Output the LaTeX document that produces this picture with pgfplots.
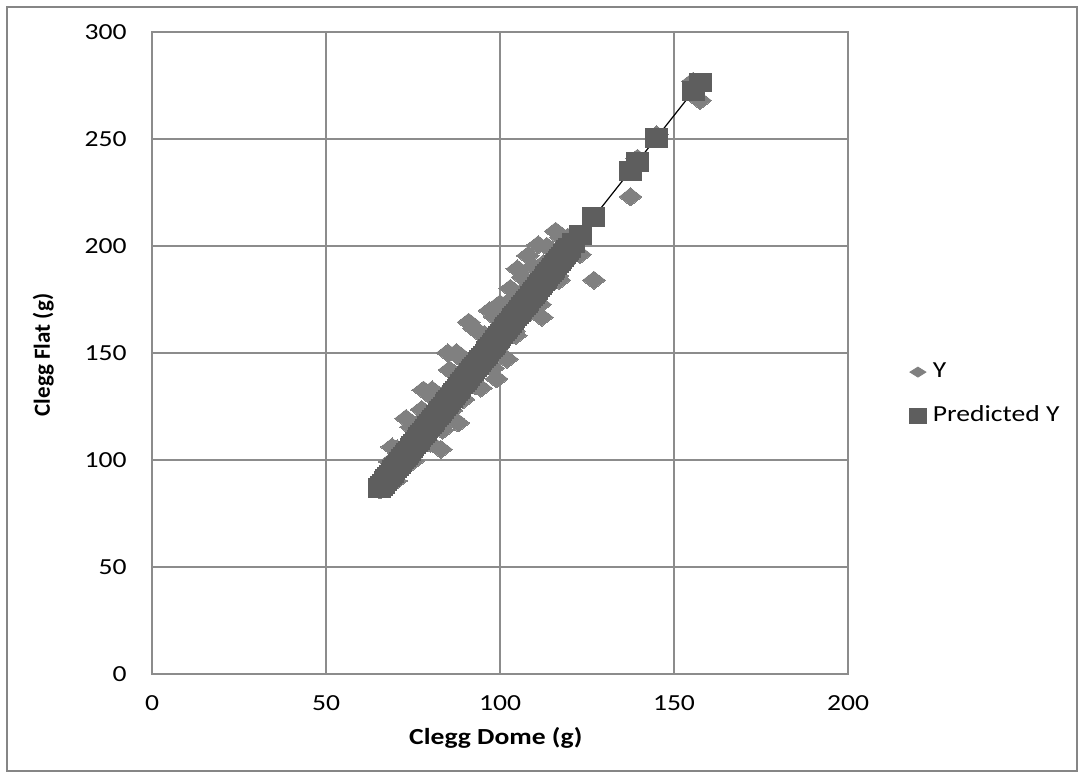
\documentclass[border=0pt]{standalone}
\usepackage{pgfplots}
\pgfplotsset{compat=1.18}
\usepackage{pgfplotstable}
\usepackage{fontspec}
\setmainfont{Carlito}[FakeStretch=1.2]
\newfontfamily\plainfont{Carlito}
\definecolor{ycol}{RGB}{128,128,128}
\definecolor{pcol}{RGB}{94,94,94}
\definecolor{gridc}{RGB}{140,140,140}
\definecolor{framec}{RGB}{134,134,134}

\pgfplotstableread{
x y
65.5 86.0
66 87.9
66.5 92.0
67 87.0
67.5 90.0
68 96.1
68.5 99.1
69 106.1
69.5 96.1
70 90.2
70.5 105.2
71 103.2
71.5 97.3
72 96.3
72.5 104.3
73 119.4
73.5 98.4
74 107.4
74.5 115.4
75 99.5
75.5 109.5
76 116.5
76.5 105.6
77 107.6
77.5 123.6
78 132.7
78.5 107.7
79 116.7
79.5 121.7
80 107.8
80.5 132.8
81 128.8
81.5 117.9
82 115.9
82.5 129.9
83 105.0
83.5 114.0
84 131.0
84.5 128.0
85 150.1
85.5 142.1
86 123.1
86.5 119.2
87 140.2
87.5 150.2
88 117.3
88.5 137.3
89 147.3
89.5 128.3
90 133.4
90.5 145.4
91 164.4
91.5 138.5
92 146.5
92.5 161.5
93 134.6
93.5 146.6
94 159.6
94.5 133.6
95 144.7
95.5 158.7
96 157.7
96.5 145.8
97 169.8
97.5 157.8
98 142.9
98.5 166.9
99 137.9
99.5 152.9
100 173.0
100.5 149.0
101 164.0
101.5 170.1
102 147.1
102.5 160.1
103 180.2
103.5 175.2
104 160.2
104.5 158.2
105 189.3
105.5 173.3
106 168.3
106.5 185.4
107 179.4
107.5 168.4
108 195.5
108.5 177.5
109 169.5
109.5 190.5
110 183.6
110.5 176.6
111 200.6
111.5 172.7
112 166.7
112.5 191.7
113 187.8
113.5 199.8
114 181.8
114.5 185.8
115 197.9
115.5 192.9
116 206.9
116.5 186.0
117 184.0
117.5 204.0
118 199.1
118.5 192.1
119 198.1
119.5 204.1
120 196.2
121 203.2
123 196.0
127 184.0
137.5 223.0
139.5 241.0
145 252.0
155.5 277.0
157.5 268.0
}\ydata

\pgfplotstableread{
x y
65.5 86.90
66 87.93
66.5 88.96
67 89.99
67.5 91.02
68 92.05
68.5 93.08
69 94.11
69.5 95.14
70 96.17
70.5 97.20
71 98.23
71.5 99.26
72 100.29
72.5 101.32
73 102.35
73.5 103.38
74 104.41
74.5 105.44
75 106.47
75.5 107.50
76 108.53
76.5 109.56
77 110.59
77.5 111.62
78 112.65
78.5 113.68
79 114.71
79.5 115.74
80 116.77
80.5 117.80
81 118.83
81.5 119.86
82 120.89
82.5 121.92
83 122.95
83.5 123.98
84 125.01
84.5 126.04
85 127.07
85.5 128.10
86 129.13
86.5 130.16
87 131.19
87.5 132.22
88 133.25
88.5 134.28
89 135.31
89.5 136.34
90 137.37
90.5 138.40
91 139.43
91.5 140.46
92 141.49
92.5 142.52
93 143.55
93.5 144.58
94 145.61
94.5 146.64
95 147.67
95.5 148.70
96 149.73
96.5 150.76
97 151.79
97.5 152.82
98 153.85
98.5 154.88
99 155.91
99.5 156.94
100 157.97
100.5 159.00
101 160.03
101.5 161.06
102 162.09
102.5 163.12
103 164.15
103.5 165.18
104 166.21
104.5 167.24
105 168.27
105.5 169.30
106 170.33
106.5 171.36
107 172.39
107.5 173.42
108 174.45
108.5 175.48
109 176.51
109.5 177.54
110 178.57
110.5 179.60
111 180.63
111.5 181.66
112 182.69
112.5 183.72
113 184.75
113.5 185.78
114 186.81
114.5 187.84
115 188.87
115.5 189.90
116 190.93
116.5 191.96
117 192.99
117.5 194.02
118 195.05
118.5 196.08
119 197.11
119.5 198.14
120 199.17
121 201.23
123 205.35
127 213.59
137.5 235.22
139.5 239.34
145 250.67
155.5 272.30
157.5 276.42
}\pdata

\begin{document}
\begin{tikzpicture}
\path[use as bounding box] (0,0) rectangle (542pt,389pt);
\draw[framec, line width=1.2pt] (3.5pt,3.5pt) rectangle (538.5pt,385.5pt);
\begin{axis}[
  at={(76pt,52pt)}, anchor=south west,
  scale only axis, width=348pt, height=321pt,
  xmin=0, xmax=200, ymin=0, ymax=300,
  xtick={0,50,...,200}, ytick={0,50,...,300},
  grid=major, major grid style={gridc, line width=0.6pt},
  axis line style={gridc, line width=0.6pt},
  major tick length=0pt,
  /pgf/number format/assume math mode=true,
  tick label style={font=\fontsize{11.5}{14}\selectfont, inner sep=0pt, text=black},
  xticklabel style={anchor=center, yshift=-14.5pt},
  yticklabel style={anchor=east, xshift=-12.5pt},
  xlabel={Clegg Dome (g)},
  ylabel={\plainfont\bfseries Clegg Flat (g)},
  label style={font=\fontsize{11.5}{14}\selectfont\bfseries, inner sep=0pt},
  xlabel style={at={(axis description cs:0.494,0)}, anchor=base, yshift=-35pt},
  ylabel style={at={(axis description cs:-0.1466,0.497)}, anchor=base},
  legend style={at={(1.0785,0.436)}, anchor=west, draw=none, fill=none,
    font=\fontsize{11.5}{14}\selectfont, row sep=12.5pt,
    nodes={inner sep=0pt},
    /tikz/every odd column/.style={column sep=3pt}},
  legend cell align=left,
]
\addplot[only marks, mark=diamond*, mark size=4.5pt, color=ycol,
  mark options={xscale=1.7, fill=ycol, draw=ycol, line width=0pt},
  legend image code/.code={\fill[ycol] (-4pt,0pt) -- (0pt,2.5pt) -- (4pt,0pt) -- (0pt,-2.5pt) -- cycle;}]
  table[x=x,y=y] {\ydata};
\addlegendentry{Y}
\addplot[only marks, mark=square*, mark size=5.5pt, color=pcol,
  mark options={yscale=0.86, fill=pcol, draw=pcol, line width=0pt},
  legend image code/.code={\fill[pcol] (-4.25pt,-3.75pt) rectangle (4.25pt,3.75pt);}]
  table[x=x,y=y] {\pdata};
\addlegendentry{Predicted Y}
\addplot[black, line width=0.6pt, forget plot] coordinates {(65.5,86.90) (157.5,276.42)};
\end{axis}
\end{tikzpicture}
\end{document}
